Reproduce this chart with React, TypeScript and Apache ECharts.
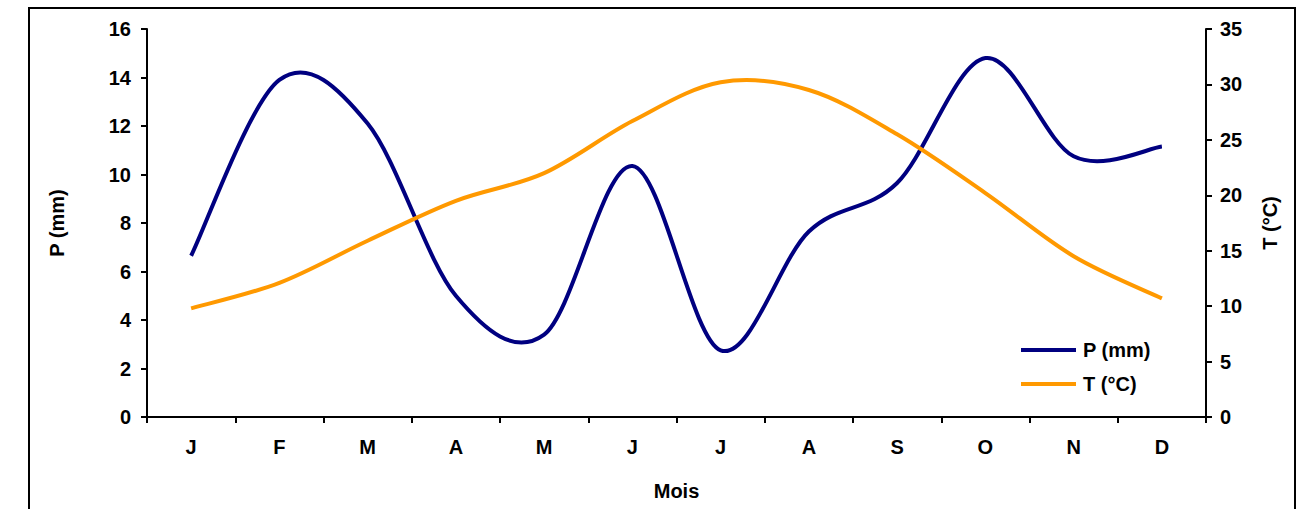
import React, { useEffect, useRef } from "react";
import * as echarts from "echarts";

const months = ["J", "F", "M", "A", "M", "J", "J", "A", "S", "O", "N", "D"];
const precipitation = [6.65, 13.9, 12.1, 5.0, 3.4, 10.35, 2.75, 7.65, 9.65, 14.8, 10.75, 11.15];
const temperature = [9.8, 12.1, 15.9, 19.5, 22.0, 26.7, 30.2, 29.5, 25.5, 20.2, 14.5, 10.7];
const pTicks = { min: 0, max: 16, interval: 2 };
const tTicks = { min: 0, max: 35, interval: 5 };

const FONT = "'Liberation Sans', Arial, sans-serif";
const P_COLOR = "#000080";
const T_COLOR = "#FF9900";

// Smooth curve through the data points (Catmull-Rom as cubic Beziers), like a spreadsheet's "smoothed line"
function smoothRenderer(values: number[], color: string) {
  return (params: any, api: any) => {
    if (params.dataIndex !== 0) return null;
    const pts = values.map((v, i) => api.coord([i, v]) as number[]);
    let d = `M${pts[0][0]},${pts[0][1]}`;
    for (let i = 0; i < pts.length - 1; i++) {
      const p0 = pts[Math.max(i - 1, 0)];
      const p1 = pts[i];
      const p2 = pts[i + 1];
      const p3 = pts[Math.min(i + 2, pts.length - 1)];
      const c1x = p1[0] + (p2[0] - p0[0]) / 6;
      const c1y = p1[1] + (p2[1] - p0[1]) / 6;
      const c2x = p2[0] - (p3[0] - p1[0]) / 6;
      const c2y = p2[1] - (p3[1] - p1[1]) / 6;
      d += ` C${c1x},${c1y} ${c2x},${c2y} ${p2[0]},${p2[1]}`;
    }
    return {
      type: "path",
      shape: { pathData: d },
      style: { fill: "none", stroke: color, lineWidth: 4, lineJoin: "round" },
      silent: true,
    };
  };
}

export default function App() {
  const ref = useRef<HTMLDivElement>(null);
  useEffect(() => {
    if (!ref.current) return;
    const chart = echarts.init(ref.current, undefined, { renderer: "svg" });
    const axisLine = { show: true, lineStyle: { color: "#000", width: 2 } };
    const axisTick = { show: true, length: 6, lineStyle: { color: "#000", width: 2 } };
    const labelStyle = { color: "#000", fontFamily: FONT, fontWeight: "bold" as const, fontSize: 20 };
    chart.setOption({
      animation: false,
      backgroundColor: "#fff",
      grid: { left: 147, right: 94, top: 29, bottom: 92, containLabel: false },
      graphic: [
        {
          type: "rect",
          shape: { x: 29, y: 8, width: 1266, height: 600 },
          style: { fill: "none", stroke: "#000", lineWidth: 2 },
          silent: true,
        },
      ],
      legend: {
        orient: "vertical",
        left: 1021,
        top: 339,
        padding: 0,
        itemWidth: 55,
        itemHeight: 4,
        itemGap: 12,
        icon: "rect",
        textStyle: { ...labelStyle, fontSize: 20, lineHeight: 22, padding: [0, 0, 0, 2] },
        data: [
          { name: "P (mm)", itemStyle: { color: P_COLOR } },
          { name: "T (°C)", itemStyle: { color: T_COLOR } },
        ],
      },
      xAxis: {
        type: "category",
        data: months,
        boundaryGap: true,
        name: "Mois",
        nameLocation: "middle",
        nameGap: 64,
        nameTextStyle: labelStyle,
        axisLine,
        axisTick,
        axisLabel: { ...labelStyle, margin: 20, interval: 0 },
        splitLine: { show: false },
      },
      yAxis: [
        {
          type: "value",
          position: "left",
          ...pTicks,
          name: "P (mm)",
          nameLocation: "middle",
          nameRotate: 90,
          nameGap: 80,
          nameTextStyle: labelStyle,
          axisLine,
          axisTick,
          axisLabel: { ...labelStyle, margin: 16 },
          splitLine: { show: false },
        },
        {
          type: "value",
          position: "right",
          ...tTicks,
          name: "T (°C)",
          nameLocation: "middle",
          nameRotate: 90,
          nameGap: 54,
          nameTextStyle: labelStyle,
          axisLine,
          axisTick,
          axisLabel: { ...labelStyle, margin: 14 },
          splitLine: { show: false },
        },
      ],
      series: [
        {
          name: "P (mm)",
          type: "custom",
          yAxisIndex: 0,
          data: precipitation.map((v, i) => [i, v]),
          encode: { x: 0, y: 1 },
          renderItem: smoothRenderer(precipitation, P_COLOR),
          itemStyle: { color: P_COLOR },
        },
        {
          name: "T (°C)",
          type: "custom",
          yAxisIndex: 1,
          data: temperature.map((v, i) => [i, v]),
          encode: { x: 0, y: 1 },
          renderItem: smoothRenderer(temperature, T_COLOR),
          itemStyle: { color: T_COLOR },
        },
      ],
    });
    return () => chart.dispose();
  }, []);
  return (
    <div
      ref={ref}
      style={{ position: "absolute", left: 0, top: 0, width: 1300, height: 509, background: "#fff" }}
    />
  );
}
